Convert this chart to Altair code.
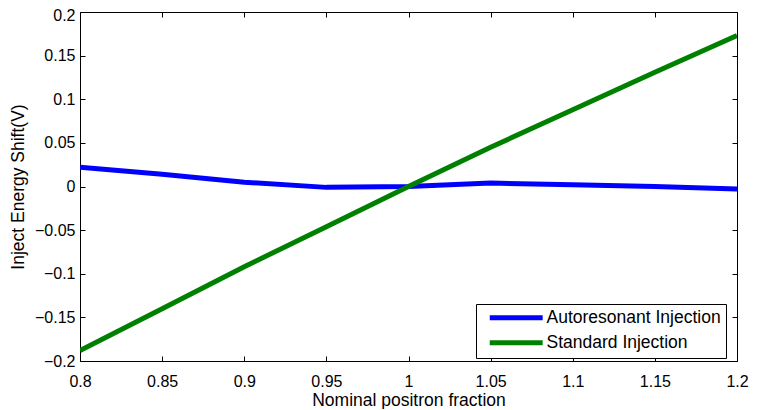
import altair as alt
import pandas as pd

x_vals = [0.8, 0.85, 0.9, 0.95, 1.0, 1.05, 1.1, 1.15, 1.2]
auto_vals = [0.022, 0.014, 0.005, -0.001, 0.0, 0.004, 0.002, 0.0, -0.003]
std_vals = [-0.188, -0.140, -0.092, -0.046, 0.0, 0.045, 0.088, 0.131, 0.173]
series = ["Autoresonant Injection", "Standard Injection"]
colors = ["#0000FF", "#008000"]
x_ticks = [0.8, 0.85, 0.9, 0.95, 1.0, 1.05, 1.1, 1.15, 1.2]
y_ticks = [-0.2, -0.15, -0.1, -0.05, 0.0, 0.05, 0.1, 0.15, 0.2]

rows = []
for xv, a, s in zip(x_vals, auto_vals, std_vals):
    rows.append({"x": xv, "y": a, "series": series[0]})
    rows.append({"x": xv, "y": s, "series": series[1]})
df = pd.DataFrame(rows)

FONT = "Liberation Sans"
xs = alt.Scale(domain=[0.8, 1.2], nice=False, zero=False)
ys = alt.Scale(domain=[-0.2, 0.2], nice=False, zero=False)

axis_common = dict(domain=False, grid=False, tickSize=5, offset=-5,
                   tickColor="black", tickWidth=1, labelFlush=False,
                   labelFont=FONT, titleFont=FONT, labelFontSize=16, titleFontSize=17.5,
                   titleFontWeight="normal", labelColor="black", titleColor="black")

main = alt.Chart(df).mark_line(strokeWidth=5, clip=True).encode(
    x=alt.X("x:Q", scale=xs,
            axis=alt.Axis(values=x_ticks, format="~g", title="Nominal positron fraction",
                          orient="bottom", labelPadding=12, titlePadding=2, **axis_common)),
    y=alt.Y("y:Q", scale=ys,
            axis=alt.Axis(values=y_ticks, format="~g", title="Inject Energy Shift(V)",
                          orient="left", labelPadding=5, titlePadding=7,
                          labelOffset={"condition": {"test": "datum.value > 0.19", "value": 3},
                                       "value": 0},
                          **axis_common)),
    color=alt.Color("series:N",
                    scale=alt.Scale(domain=series, range=colors),
                    legend=alt.Legend(title=None, orient="none", legendX=396, legendY=292,
                                      symbolType="M0,0H10", symbolSize=112,
                                      symbolStrokeWidth=5, labelFontSize=17.5,
                                      labelFont=FONT, labelColor="black",
                                      strokeColor="black",
                                      fillColor="white", padding=5, rowPadding=4,
                                      labelOffset=48, cornerRadius=0,
                                      labelLimit=300)),
)

frame = alt.Chart(df).mark_line(strokeOpacity=0).encode(
    x=alt.X("x:Q", scale=xs,
            axis=alt.Axis(values=x_ticks, labels=False, title=None, orient="top",
                          **axis_common)),
    y=alt.Y("y:Q", scale=ys,
            axis=alt.Axis(values=y_ticks, labels=False, title=None, orient="right",
                          **axis_common)),
    detail="series:N",
)

chart = alt.layer(main, frame).resolve_axis(x="independent", y="independent").properties(
    width=657, height=349,
    autosize=alt.AutoSizeParams(type="none"),
    padding={"left": 72, "top": 4, "right": 15, "bottom": 48},
).configure_view(stroke="black", strokeWidth=1)

chart.save("out.html", embed_options={"renderer": "svg", "actions": False})
